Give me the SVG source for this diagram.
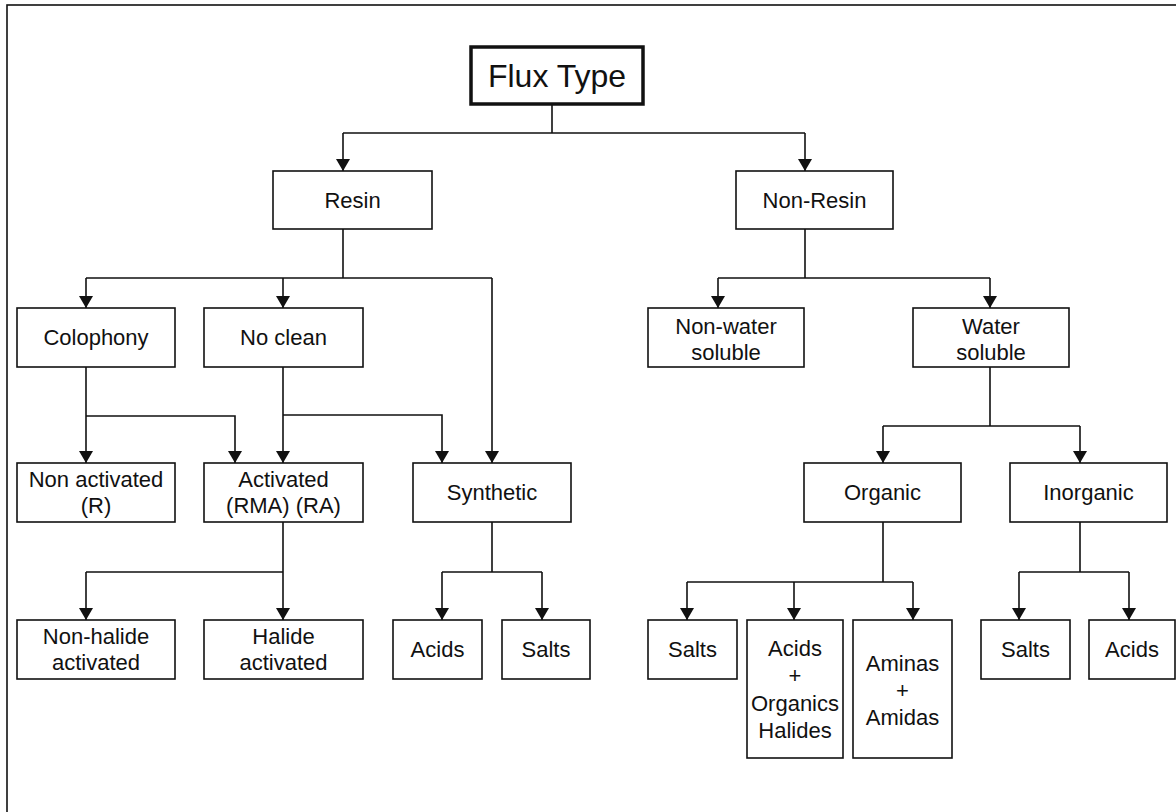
<svg xmlns="http://www.w3.org/2000/svg" width="1176" height="812" viewBox="0 0 1176 812">
<style>
.box{fill:#fff;stroke:#111;stroke-width:1.6}
.title{fill:#fff;stroke:#111;stroke-width:3.5}
text{font-family:"Liberation Sans",Arial,sans-serif;font-size:22px;fill:#111;text-anchor:middle}
.c{fill:none;stroke:#111;stroke-width:1.6}
.a{marker-end:url(#arr)}
</style>
<defs>
<marker id="arr" viewBox="0 0 12 14" refX="12" refY="7" markerWidth="12" markerHeight="14" markerUnits="userSpaceOnUse" orient="auto">
<path d="M0,0 L12,7 L0,14 z" fill="#111"/>
</marker>
</defs>
<rect width="1176" height="812" fill="#fff"/>
<rect x="7" y="5" width="1180" height="812" fill="none" stroke="#111" stroke-width="1.6"/>

<g id="connectors">
<path class="c" d="M552,104 V133 M343,133 H805"/>
<path class="c a" d="M343,133 V171"/>
<path class="c a" d="M805,133 V171"/>
<path class="c" d="M343,229 V278 M86,278 H492"/>
<path class="c a" d="M86,278 V308"/>
<path class="c a" d="M283,278 V308"/>
<path class="c a" d="M492,278 V463"/>
<path class="c" d="M805,229 V278 M718,278 H990"/>
<path class="c a" d="M718,278 V308"/>
<path class="c a" d="M990,278 V308"/>
<path class="c a" d="M86,367 V463"/>
<path class="c a" d="M86,416 H235 V463"/>
<path class="c a" d="M283,367 V463"/>
<path class="c a" d="M283,415 H442 V463"/>
<path class="c" d="M990,367 V426 M883,426 H1080"/>
<path class="c a" d="M883,426 V463"/>
<path class="c a" d="M1080,426 V463"/>
<path class="c" d="M283,522 V572 M86,572 H283"/>
<path class="c a" d="M86,572 V620"/>
<path class="c a" d="M283,572 V620"/>
<path class="c" d="M492,522 V572 M442,572 H542"/>
<path class="c a" d="M442,572 V620"/>
<path class="c a" d="M542,572 V620"/>
<path class="c" d="M883,522 V582 M687,582 H913"/>
<path class="c a" d="M687,582 V620"/>
<path class="c a" d="M794,582 V620"/>
<path class="c a" d="M913,582 V620"/>
<path class="c" d="M1080,522 V572 M1019,572 H1129"/>
<path class="c a" d="M1019,572 V620"/>
<path class="c a" d="M1129,572 V620"/>
</g>

<g id="flux-type"><rect class="title" x="471" y="47" width="172" height="57"/><text x="557" y="87" style="font-size:32px">Flux Type</text></g>
<g id="resin"><rect class="box" x="273" y="171" width="159" height="58"/><text x="352.5" y="208">Resin</text></g>
<g id="non-resin"><rect class="box" x="736" y="171" width="157" height="58"/><text x="814.5" y="208">Non-Resin</text></g>
<g id="colophony"><rect class="box" x="17" y="308" width="158" height="59"/><text x="96" y="345">Colophony</text></g>
<g id="no-clean"><rect class="box" x="204" y="308" width="159" height="59"/><text x="283.5" y="345">No clean</text></g>
<g id="non-water-soluble"><rect class="box" x="648" y="308" width="156" height="59"/><text x="726" y="334">Non-water</text><text x="726" y="360">soluble</text></g>
<g id="water-soluble"><rect class="box" x="913" y="308" width="156" height="59"/><text x="991" y="334">Water</text><text x="991" y="360">soluble</text></g>
<g id="non-activated"><rect class="box" x="17" y="463" width="158" height="59"/><text x="96" y="487">Non activated</text><text x="96" y="513">(R)</text></g>
<g id="activated"><rect class="box" x="204" y="463" width="159" height="59"/><text x="283.5" y="487">Activated</text><text x="283.5" y="513">(RMA) (RA)</text></g>
<g id="synthetic"><rect class="box" x="413" y="463" width="158" height="59"/><text x="492" y="500">Synthetic</text></g>
<g id="organic"><rect class="box" x="804" y="463" width="157" height="59"/><text x="882.5" y="500">Organic</text></g>
<g id="inorganic"><rect class="box" x="1010" y="463" width="157" height="59"/><text x="1088.5" y="500">Inorganic</text></g>
<g id="non-halide"><rect class="box" x="17" y="620" width="158" height="59"/><text x="96" y="644">Non-halide</text><text x="96" y="670">activated</text></g>
<g id="halide"><rect class="box" x="204" y="620" width="159" height="59"/><text x="283.5" y="644">Halide</text><text x="283.5" y="670">activated</text></g>
<g id="syn-acids"><rect class="box" x="393" y="620" width="89" height="59"/><text x="437.5" y="657">Acids</text></g>
<g id="syn-salts"><rect class="box" x="502" y="620" width="88" height="59"/><text x="546" y="657">Salts</text></g>
<g id="org-salts"><rect class="box" x="648" y="620" width="89" height="59"/><text x="692.5" y="657">Salts</text></g>
<g id="org-acids"><rect class="box" x="747" y="620" width="96" height="138"/><text x="795" y="656">Acids</text><text x="795" y="683">+</text><text x="795" y="711">Organics</text><text x="795" y="738">Halides</text></g>
<g id="aminas"><rect class="box" x="853" y="620" width="99" height="138"/><text x="902.5" y="671">Aminas</text><text x="902.5" y="698">+</text><text x="902.5" y="725">Amidas</text></g>
<g id="inorg-salts"><rect class="box" x="981" y="620" width="89" height="59"/><text x="1025.5" y="657">Salts</text></g>
<g id="inorg-acids"><rect class="box" x="1089" y="620" width="86" height="59"/><text x="1132" y="657">Acids</text></g>
</svg>
